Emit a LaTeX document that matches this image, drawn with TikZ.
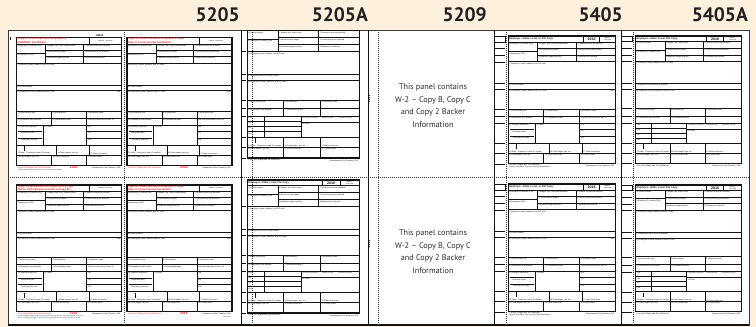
\documentclass[tikz,border=0pt]{standalone}
\usepackage{fontspec}
\setmainfont{Liberation Sans}
\newfontfamily\ptsans{PT Sans}
\definecolor{cream}{HTML}{FDF1DE}
\definecolor{wred}{HTML}{E8262A}
\definecolor{ink}{HTML}{141414}
\definecolor{hdr}{HTML}{231F20}
\tikzset{
 fl/.style={line width=1pt, draw=ink},
 lbl/.style={font=\fontsize{1.9}{2.2}\selectfont, inner sep=0pt, anchor=north west, text=ink},
 lbls/.style={lbl, anchor=south west},
 sml/.style={lbl, font=\fontsize{1.6}{1.8}\selectfont},
 hnum/.style={font=\ptsans\bfseries\fontsize{19.5}{19.5}\selectfont, text=hdr, anchor=east, inner sep=0pt},
 ptxt/.style={font=\ptsans\fontsize{8.2}{12.5}\selectfont, text=ink!90, align=center, inner sep=0pt},
 dotl/.style={line width=1pt, draw=ink!85, dash pattern=on 1pt off 1pt},
 hdtxt/.style={lbl, font=\bfseries\fontsize{2.5}{2.8}\selectfont, anchor=west},
 yrtxt/.style={lbl, font=\bfseries\fontsize{3.6}{3.8}\selectfont, anchor=center},
 ombtxt/.style={lbl, font=\fontsize{1.5}{1.8}\selectfont, anchor=center, align=center},
 redhd/.style={lbl, text=wred, font=\bfseries\fontsize{2.8}{3.1}\selectfont, align=left},
}
% layout A form: #1 prefix, #2 x, #3 y, #4 xscale, #5 yscale, #6 extra
\newcommand\FormA[6]{%
\begin{scope}[shift={(#2,#3)},xscale=#4,yscale=#5]
 \draw[fl, line width=1.2pt] (0,0) rectangle (105,128);
 \draw[fl] (0,6.7) -- (105,6.7) (0,26) -- (105,26) (0,47.7) -- (105,47.7) (0,53.3) -- (105,53.3)
   (0,73.7) -- (105,73.7) (0,80.7) -- (105,80.7) (0,87.7) -- (105,87.7) (0,107.7) -- (105,107.7) (0,117.7) -- (105,117.7);
 \draw[fl] (29,6.7) -- (29,26) (66.7,6.7) -- (66.7,26) (0,16) -- (29,16) (29,12.7) -- (105,12.7) (29,19.3) -- (105,19.3);
 \draw[fl] (35,73.7) -- (35,87.7) (70,73.7) -- (70,87.7);
 \draw[fl] (26.7,87.7) -- (26.7,107.7) (70,87.7) -- (70,107.7) (70,94.3) -- (105,94.3) (70,101) -- (105,101)
   (1.5,94.3) -- (25,94.3) (1.5,101) -- (25,101);
 \draw[fl] (40,107.7) -- (40,117.7) (72.7,107.7) -- (72.7,117.7) (35,117.7) -- (35,128) (70,117.7) -- (70,128) (8,109) -- (8,114);
 \node[lbl] (#1b) at (0.8,7.3) {b Employer ID number (EIN)};
 \node[lbl] (#1a) at (0.8,16.6) {a Employee's SSN};
 \node[lbl] (#1w1) at (29.8,7.3) {1 Wages, tips, other compensation};
 \node[lbl] (#1w3) at (29.8,13.3) {3 Social security wages};
 \node[lbl] (#1w5) at (29.8,19.9) {5 Medicare wages and tips};
 \node[lbl] (#1w2) at (67.5,7.3) {2 Federal income tax withheld};
 \node[lbl] (#1w4) at (67.5,13.3) {4 Social security tax withheld};
 \node[lbl] (#1w6) at (67.5,19.9) {6 Medicare tax withheld};
 \node[lbl] (#1c) at (0.8,26.6) {c Employer's name, address, and ZIP code};
 \node[lbl] (#1d) at (0.8,48.3) {d Control number};
 \node[lbl] (#1e) at (0.8,53.9) {e/f Employee's name, address and ZIP code};
 \node[lbl, anchor=north east] (#1s) at (104.2,53.9) {Suff.};
 \node[lbl] (#1w7) at (0.8,74.3) {7 Social security tips};
 \node[lbl] (#1w8) at (35.8,74.3) {8 Allocated tips};
 \node[lbl] (#1w9) at (70.8,74.3) {9 Verification code};
 \node[lbl] (#1w10) at (0.8,81.3) {10 Dependent care benefits};
 \node[lbl] (#1w11) at (35.8,81.3) {11 Nonqualified plans};
 \node[lbl] (#1w12a) at (70.8,81.3) {12a See instructions for box 12};
 \node[lbl] (#1w13) at (0.8,88.3) {13 Statutory employee};
 \node[lbl] (#1rp) at (4,95) {Retirement plan};
 \node[lbl] (#1tp) at (4,101.6) {Third-party sick pay};
 \node[lbl] (#1w14) at (27.5,88.3) {14 Other};
 \node[lbl] (#1w12b) at (70.8,88.3) {12b};
 \node[lbl] (#1w12c) at (70.8,94.9) {12c};
 \node[lbl] (#1w12d) at (70.8,101.6) {12d};
 \node[lbls] (#1w15) at (0.8,117.2) {15 State\quad Employer's state ID number};
 \node[lbls] (#1w16) at (40.8,117.2) {16 State wages, tips, etc.};
 \node[lbls] (#1w17) at (73.5,117.2) {17 State income tax};
 \node[lbl] (#1w18) at (0.8,118.3) {18 Local wages, tips, etc.};
 \node[lbl] (#1w19) at (35.8,118.3) {19 Local income tax};
 \node[lbl] (#1w20) at (70.8,118.3) {20 Locality name};
 #6
\end{scope}}
% layout B form
\newcommand\FormB[6]{%
\begin{scope}[shift={(#2,#3)},xscale=#4,yscale=#5]
 \draw[fl, line width=1.2pt] (0,0) rectangle (106,127.3);
 \draw[fl] (0,5.7) -- (106,5.7) (0,25.7) -- (106,25.7) (0,47.3) -- (106,47.3) (0,53.3) -- (106,53.3)
   (0,72.3) -- (106,72.3) (0,80) -- (106,80) (0,87.3) -- (106,87.3) (0,107.3) -- (106,107.3) (0,117.3) -- (106,117.3);
 \draw[fl] (71,0) -- (71,5.7) (87.7,0) -- (87.7,5.7);
 \draw[fl] (29.3,5.7) -- (29.3,25.7) (67.7,5.7) -- (67.7,25.7) (0,14) -- (29.3,14) (29.3,12.3) -- (106,12.3) (29.3,19) -- (106,19);
 \draw[fl] (34.3,72.3) -- (34.3,87.3) (69.3,72.3) -- (69.3,87.3);
 \draw[fl] (16,87.3) -- (16,107.3) (51,87.3) -- (51,107.3) (0,92.3) -- (51,92.3) (0,97.3) -- (51,97.3) (0,102.3) -- (51,102.3) (51,93.3) -- (106,93.3);
 \draw[fl] (34.3,107.3) -- (34.3,127.3) (69.3,107.3) -- (69.3,127.3) (7.7,108.3) -- (7.7,113);
 \node[lbl] (#1d) at (0.8,6.3) {d Control number};
 \node[lbl] (#1b) at (0.8,14.6) {b Employer ID number (EIN)};
 \node[lbl] (#1w1) at (30.1,6.3) {1 Wages, tips, other comp.};
 \node[lbl] (#1w3) at (30.1,12.9) {3 Social security wages};
 \node[lbl] (#1w5) at (30.1,19.6) {5 Medicare wages and tips};
 \node[lbl] (#1w2) at (68.5,6.3) {2 Federal income tax withheld};
 \node[lbl] (#1w4) at (68.5,12.9) {4 Social security tax withheld};
 \node[lbl] (#1w6) at (68.5,19.6) {6 Medicare tax withheld};
 \node[lbl] (#1c) at (0.8,26.3) {c Employer's name, address, and ZIP code};
 \node[lbl] (#1a) at (0.8,47.9) {a Employee's social security number};
 \node[lbl] (#1e) at (0.8,53.9) {e/f Employee's name, address, and ZIP code};
 \node[lbl] (#1w7) at (0.8,72.9) {7 Social security tips};
 \node[lbl] (#1w8) at (35.1,72.9) {8 Allocated tips};
 \node[lbl] (#1w9) at (70.1,72.9) {9 Verification code};
 \node[lbl] (#1w10) at (0.8,80.6) {10 Dependent care benefits};
 \node[lbl] (#1w11) at (35.1,80.6) {11 Nonqualified plans};
 \node[lbl] (#1c12a) at (0.8,87.9) {12a};
 \node[lbl] (#1c12b) at (0.8,92.9) {12b};
 \node[lbl] (#1c12c) at (0.8,97.9) {12c};
 \node[lbl] (#1c12d) at (0.8,102.9) {12d};
 \node[sml] (#1w13) at (51.8,88) {13 Statutory employee};
 \node[sml] (#1rp) at (70.5,88) {Retirement plan};
 \node[sml] (#1tp) at (85.5,88) {Third-party sick pay};
 \node[lbl] (#1w14) at (51.8,93.9) {14 Other};
 \node[lbls] (#1w15) at (0.8,116.8) {15 State\quad Employer's state ID number};
 \node[lbls] (#1w16) at (35.1,116.8) {16 State wages, tips, etc.};
 \node[lbls] (#1w17) at (70.1,116.8) {17 State income tax};
 \node[lbl] (#1w18) at (0.8,117.9) {18 Local wages, tips, etc.};
 \node[lbl] (#1w19) at (35.1,117.9) {19 Local income tax};
 \node[lbl] (#1w20) at (70.1,117.9) {20 Locality name};
 \node[lbl, font=\fontsize{2}{2.2}\selectfont] (#1f1) at (1,128.5) {Form W-2 Wage and Tax Statement};
 \node[lbl, anchor=north east] (#1f2) at (105,128.7) {Department of the Treasury—IRS};
 #6
\end{scope}}
\begin{document}
\begin{tikzpicture}[x=1pt,y=-1pt]
\useasboundingbox (0,0) rectangle (756,327);
\fill[cream] (0,0) rectangle (756,327);
% sheet
\draw[fill=white, draw=ink!85, line width=0.9pt] (8,30) rectangle (749,325);
\draw[ink, line width=1.6pt] (8,325) -- (749,325);
% header numbers
\node[hnum] (h5205) at (240,15) {5205};
\node[hnum] (h5205A) at (368,15) {5205A};
\node[hnum] (h5209) at (487,15) {5209};
\node[hnum] (h5405) at (623,15) {5405};
\node[hnum] (h5405A) at (748,15) {5405A};
% panel boundaries
\foreach \xx in {241,368,494,621} \draw[ink, line width=0.9pt] (\xx,30) -- (\xx,325);
% dotted guides
\draw[dotl] (8,177.5) -- (749,177.5);
\foreach \xx in {124,252,378,506,633} \draw[dotl] (\xx,30) -- (\xx,325);
\draw[dotl] (369.5,95) -- (369.5,102);
\draw[dotl] (369.5,240) -- (369.5,247);
% ---------- 5205 ----------
\draw[fl] (10.5,36.5) -- (10.5,40);
\FormA{TL}{16.7}{37.3}{1}{1}{%
 \draw[fl] (72.7,0) -- (72.7,6.7);
 \node[ombtxt] (TLomb) at (88.8,3.5) {OMB No. 1545-0008};
 \node[redhd] (TLhead) at (0.8,0.4) {Copy B To Be Filed With Employee's\\FEDERAL Tax Return};
 \node[lbl, font=\bfseries\fontsize{2.6}{2.8}\selectfont, anchor=south] (TLnum) at (83,-0.6) {55555};
 \node[lbl, text=wred, font=\fontsize{2.1}{2.3}\selectfont] (TLf1) at (1,129) {Form W-2 Wage and Tax Statement};
 \node[lbl, text=wred, font=\bfseries\fontsize{3.4}{3.6}\selectfont] (TLf2) at (53,128.4) {2016};
 \node[lbl, anchor=north east] (TLf3) at (104,129.2) {Department of the Treasury—IRS};
 \node[lbl, font=\fontsize{1.5}{1.8}\selectfont] (TLf4) at (1,132) {This information is being furnished to the Internal Revenue Service.};
}
\FormA{TR}{127}{37.3}{1}{1}{%
 \draw[fl] (72.7,0) -- (72.7,6.7);
 \node[ombtxt] (TRomb) at (88.8,3.5) {OMB No. 1545-0008};
 \node[redhd] (TRhead) at (0.8,0.4) {Copy 2 To Be Filed With Employee's State,\\City, or Local Income Tax Return};
 \node[lbl, text=wred, font=\fontsize{2.1}{2.3}\selectfont] (TRf1) at (1,129) {Form W-2 Wage and Tax Statement};
 \node[lbl, text=wred, font=\bfseries\fontsize{3.4}{3.6}\selectfont] (TRf2) at (53,128.4) {2016};
 \node[lbl, anchor=north east] (TRf3) at (104,129.2) {Department of the Treasury—IRS};
}
\FormA{BL}{16.7}{185}{1}{0.99}{%
 \draw[fl] (72.7,0) -- (72.7,6.7);
 \node[ombtxt] (BLomb) at (88.8,3.5) {OMB No. 1545-0008};
 \node[redhd] (BLhead) at (0.8,0.4) {Copy C For EMPLOYEE'S RECORDS (See\\Notice to Employee on back of Copy B.)};
 \node[lbl, text=wred, font=\fontsize{2.1}{2.3}\selectfont] (BLf1) at (1,129) {Form W-2 Wage and Tax Statement};
 \node[lbl, text=wred, font=\bfseries\fontsize{3.4}{3.6}\selectfont] (BLf2) at (53,128.4) {2016};
 \node[lbl, anchor=north east] (BLf3) at (104,129.2) {Department of the Treasury—IRS};
 \node[lbl, font=\fontsize{1.5}{1.8}\selectfont, align=left] (BLf4) at (1,132) {This information is being furnished to the Internal Revenue Service. If you are required to file a tax\\return, a negligence penalty or other sanction may be imposed on you if this income is taxable.};
}
\FormA{BR}{127}{185}{1}{0.99}{%
 \draw[fl] (72.7,0) -- (72.7,6.7);
 \node[ombtxt] (BRomb) at (88.8,3.5) {OMB No. 1545-0008};
 \node[redhd] (BRhead) at (0.8,0.4) {Copy 2 To Be Filed With Employee's State,\\City, or Local Income Tax Return};
 \node[lbl, text=wred, font=\fontsize{2.1}{2.3}\selectfont] (BRf1) at (1,129) {Form W-2 Wage and Tax Statement};
 \node[lbl, text=wred, font=\bfseries\fontsize{3.4}{3.6}\selectfont] (BRf2) at (53,128.4) {2016};
 \node[lbl, anchor=north east] (BRf3) at (104,129.2) {Department of the Treasury—IRS};
 \node[lbl, anchor=north east, font=\fontsize{1.5}{1.8}\selectfont] (BRf4) at (104,132.2) {Form 5205};
}
% ---------- 5205A ----------
\foreach \yy in {25.7,47.3,53.3,72.3,80,87.3,107.3,117.3,127.3} {
 \draw[fl] (241,25+1.045*\yy) -- (246,25+1.045*\yy);
 \draw[fl] (241,180+1.045*\yy) -- (246,180+1.045*\yy);
}
\begin{scope}
\clip (241,30.4) rectangle (368,178);
\FormB{AT}{247.3}{25}{1.057}{1.045}{}
\end{scope}
\FormB{AB}{247.3}{180}{1.057}{1.045}{%
 \node[hdtxt] (ABhead) at (0.8,2.9) {Employer—State, Local, File Copy};
 \node[yrtxt] (AByr) at (79.4,2.9) {2016};
 \node[ombtxt] (ABomb) at (96.9,2.9) {OMB No.\\1545-0008};
}
% ---------- 5209 ----------
\node[ptxt] (p1) at (433,105.5) {This panel contains\\W-2 – Copy B, Copy C\\and Copy 2 Backer\\Information};
\node[ptxt] (p2) at (433,251.5) {This panel contains\\W-2 – Copy B, Copy C\\and Copy 2 Backer\\Information};
% ---------- 5405 ----------
\foreach \yy in {0,6.7,12.7,19.3,26,47.7,53.3,73.7,80.7,87.7,107.7,117.7,128} {
 \draw[fl] (494,36+\yy) -- (505,36+\yy);
 \draw[fl] (494,184+\yy) -- (505,184+\yy);
}
\draw[fl] (505,36) -- (505,42.7) (505,184) -- (505,190.7);
\FormA{ET}{508.3}{36}{1.019}{0.995}{%
 \draw[fl] (73.6,0) -- (73.6,6.7) (89.9,0) -- (89.9,6.7);
 \node[hdtxt] (EThead) at (0.8,3.35) {Employer—State, Local, or File Copy};
 \node[yrtxt] (ETyr) at (81.7,3.35) {2016};
 \node[ombtxt] (ETomb) at (97.5,3.35) {OMB No.\\1545-0008};
 \node[lbl, align=left] (ETf1) at (1,128.8) {Form W-2 Wage and Tax Statement\\Copy 1 For State, City, or Local Tax Department};
 \node[lbl, anchor=north east] (ETf2) at (104,129.2) {Department of the Treasury—IRS};
}
\FormA{EB}{508.3}{184}{1.019}{0.995}{%
 \draw[fl] (73.6,0) -- (73.6,6.7) (89.9,0) -- (89.9,6.7);
 \node[hdtxt] (EBhead) at (0.8,3.35) {Employer—State, Local, or File Copy};
 \node[yrtxt] (EByr) at (81.7,3.35) {2016};
 \node[ombtxt] (EBomb) at (97.5,3.35) {OMB No.\\1545-0008};
 \node[lbl, align=left] (EBf1) at (1,128.8) {Form W-2 Wage and Tax Statement\\Copy 1 For State, City, or Local Tax Department};
 \node[lbl, anchor=north east] (EBf2) at (104,129.2) {Department of the Treasury—IRS};
}
% ---------- 5405A ----------
\foreach \yy in {0,5.7,12.3,19,25.7,47.3,53.3,72.3,80,87.3,107.3,117.3,127.3} {
 \draw[fl] (621,36+\yy) -- (632,36+\yy);
 \draw[fl] (621,185+\yy) -- (632,185+\yy);
}
\draw[fl] (632,36) -- (632,41.7) (632,185) -- (632,190.7);
\FormB{FT}{635.7}{36}{1}{1}{%
 \node[hdtxt] (FThead) at (0.8,2.9) {Employer—State, Local, File Copy};
 \node[yrtxt] (FTyr) at (79.4,2.9) {2016};
 \node[ombtxt] (FTomb) at (96.9,2.9) {OMB No.\\1545-0008};
}
\FormB{FB}{635.7}{185}{1}{0.995}{%
 \node[hdtxt] (FBhead) at (0.8,2.9) {Employer—State, Local, File Copy};
 \node[yrtxt] (FByr) at (79.4,2.9) {2016};
 \node[ombtxt] (FBomb) at (96.9,2.9) {OMB No.\\1545-0008};
}
\end{tikzpicture}
\end{document}
